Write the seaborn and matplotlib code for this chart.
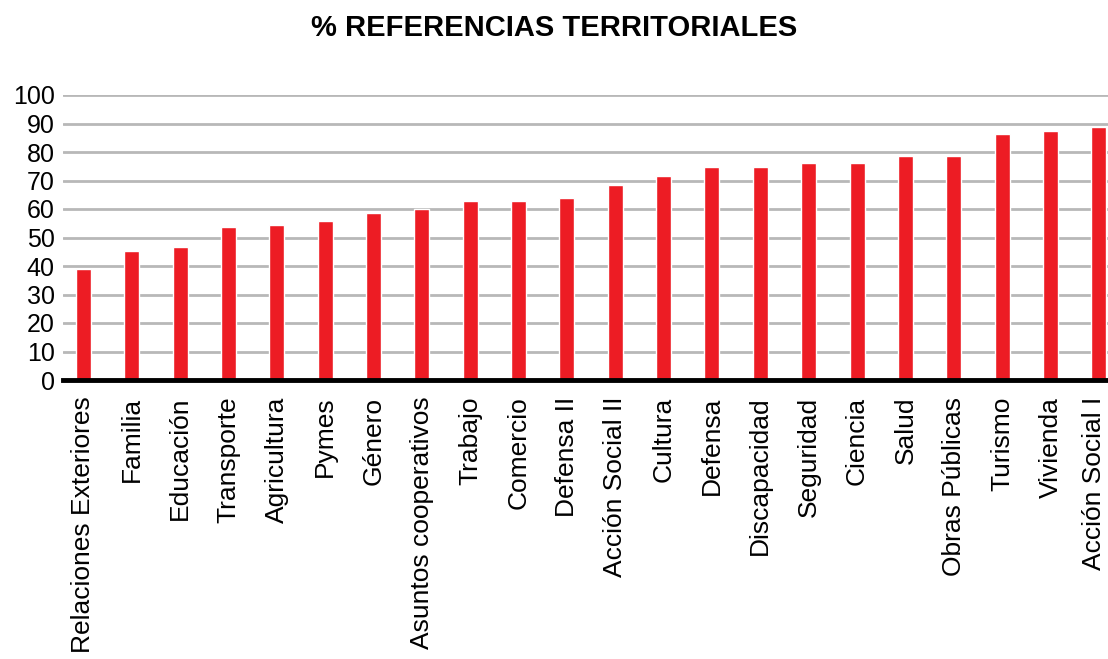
import matplotlib
matplotlib.use('Agg')
import matplotlib.pyplot as plt
import matplotlib.transforms as mtransforms
import pandas as pd
import seaborn as sns

# datos
categorias = ['Relaciones Exteriores', 'Familia', 'Educación', 'Transporte', 'Agricultura',
              'Pymes', 'Género', 'Asuntos cooperativos', 'Trabajo', 'Comercio', 'Defensa II',
              'Acción Social II', 'Cultura', 'Defensa', 'Discapacidad', 'Seguridad', 'Ciencia',
              'Salud', 'Obras Públicas', 'Turismo', 'Vivienda', 'Acción Social I']
porcentajes = [38.8, 45.1, 46.8, 53.7, 54.4, 55.9, 58.5, 60.0, 62.9, 62.9, 63.9,
               68.5, 71.7, 74.6, 74.6, 76.3, 76.3, 78.6, 78.6, 86.4, 87.3, 88.8]
ticks_y = [0, 10, 20, 30, 40, 50, 60, 70, 80, 90, 100]

df = pd.DataFrame({'categoria': categorias, 'pct': porcentajes})

sns.set_style('white')
plt.rcParams['font.family'] = ['Liberation Sans', 'DejaVu Sans']
plt.rcParams['text.color'] = 'black'
plt.rcParams['xtick.color'] = 'black'
plt.rcParams['ytick.color'] = 'black'

fig = plt.figure(figsize=(11.08, 6.59), dpi=100)
ax = fig.add_axes([63 / 1108, 1 - 380 / 659, 1 - 63 / 1108, 285 / 659])

sns.barplot(data=df, x='categoria', y='pct', color='#ed1c24', saturation=1,
            width=0.31, ax=ax, zorder=3)

ax.set_ylim(0, 100)
ax.set_xlim(-0.42, 21.19)
ax.set_yticks(ticks_y)
ax.yaxis.grid(True, color='#b8b8b8', linewidth=2, zorder=0)
ax.set_axisbelow(True)
for s in ['top', 'right', 'left']:
    ax.spines[s].set_visible(False)
ax.spines['bottom'].set_color('black')
ax.spines['bottom'].set_linewidth(3.5)
ax.spines['bottom'].set_zorder(4)

ax.tick_params(axis='y', length=0, labelsize=18, pad=6)
ax.tick_params(axis='x', length=0, labelsize=19, pad=12)
plt.setp(ax.get_xticklabels(), rotation=90, va='top', ha='center')
ax.set_xlabel('')
ax.set_ylabel('')

# la ultima etiqueta toca el borde: correrla un poco a la izquierda
ultima = ax.get_xticklabels()[-1]
ultima.set_transform(ultima.get_transform() +
                     mtransforms.ScaledTranslation(-5 / 100, 0, fig.dpi_scale_trans))

fig.suptitle('% REFERENCIAS TERRITORIALES', fontsize=21, fontweight='bold', y=0.978)

fig.savefig('out.png', dpi=100)
